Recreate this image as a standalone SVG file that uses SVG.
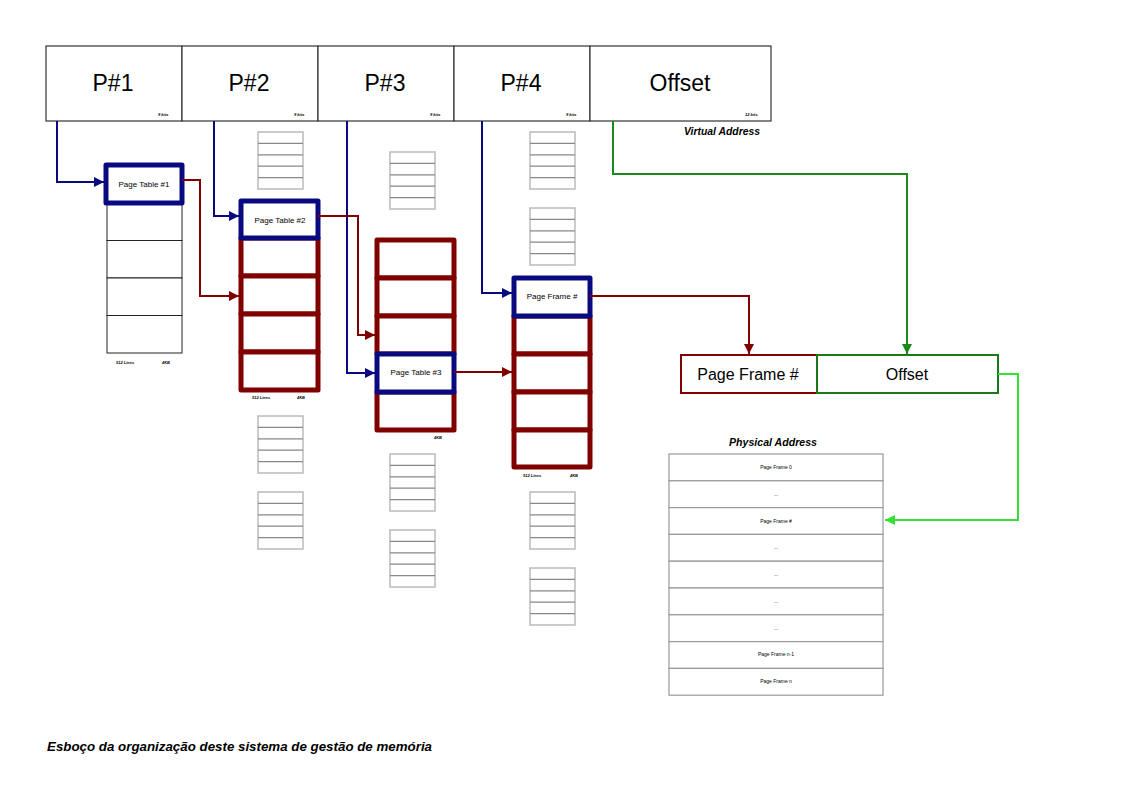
<svg xmlns="http://www.w3.org/2000/svg" xmlns:xlink="http://www.w3.org/1999/xlink" width="1123" height="794" viewBox="0 0 1123 794">
<style>
text{font-family:"Liberation Sans",Arial,sans-serif;fill:#000}
.big{font-size:23px;text-anchor:middle}
.tiny{font-size:4px;font-weight:bold;font-style:italic}
.cap{font-size:10px;font-weight:bold;font-style:italic}
.foot{font-size:13px;font-weight:bold;font-style:italic}
.lbl{font-size:8px;text-anchor:middle}
.pm{font-size:5px;text-anchor:middle}
.mid{font-size:16px;text-anchor:middle}
.cell{fill:#fff;stroke:#333;stroke-width:1.2}
.blue{fill:#fff;stroke:#0a0a80;stroke-width:5;stroke-linejoin:round}
.red{fill:#fff;stroke:#800000;stroke-width:5;stroke-linejoin:round}
.thin{fill:#fff;stroke:#222;stroke-width:1}
.pmr{fill:#fff;stroke:#999;stroke-width:1.2}
.cb{fill:none;stroke:#0a0a80;stroke-width:2}
.cr{fill:none;stroke:#800000;stroke-width:2}
.cg{fill:none;stroke:#1a8a1a;stroke-width:2}
.clg{fill:none;stroke:#33e033;stroke-width:2}
</style>
<defs>
<marker id="ab" viewBox="0 0 10 10" refX="10" refY="5" markerWidth="5" markerHeight="5" orient="auto"><path d="M0,0L10,5L0,10z" fill="#0a0a80"/></marker>
<marker id="ar" viewBox="0 0 10 10" refX="10" refY="5" markerWidth="5" markerHeight="5" orient="auto"><path d="M0,0L10,5L0,10z" fill="#800000"/></marker>
<marker id="ag" viewBox="0 0 10 10" refX="10" refY="5" markerWidth="5" markerHeight="5" orient="auto"><path d="M0,0L10,5L0,10z" fill="#1a8a1a"/></marker>
<marker id="alg" viewBox="0 0 10 10" refX="10" refY="5" markerWidth="5" markerHeight="5" orient="auto"><path d="M0,0L10,5L0,10z" fill="#33e033"/></marker>
<g id="st">
<rect x="0" y="0" width="45" height="57" fill="#fff" stroke="#bbb" stroke-width="1.5"/>
<path d="M0,11.4H45M0,22.8H45M0,34.2H45M0,45.6H45" stroke="#888" stroke-width="1.2"/>
</g>
</defs>
<rect width="1123" height="794" fill="#fff"/>

<g id="virtual-address">
<rect x="46" y="46" width="136" height="75" class="cell"/>
<rect x="182" y="46" width="136" height="75" class="cell"/>
<rect x="318" y="46" width="136" height="75" class="cell"/>
<rect x="454" y="46" width="136" height="75" class="cell"/>
<rect x="590" y="46" width="181" height="75" class="cell"/>
<text x="113" y="91" class="big">P#1</text>
<text x="249" y="91" class="big">P#2</text>
<text x="385" y="91" class="big">P#3</text>
<text x="521" y="91" class="big">P#4</text>
<text x="680" y="91" class="big">Offset</text>
<text x="158" y="116" class="tiny">9 bits</text>
<text x="294" y="116" class="tiny">9 bits</text>
<text x="430" y="116" class="tiny">9 bits</text>
<text x="566" y="116" class="tiny">9 bits</text>
<text x="745" y="116" class="tiny">12 bits</text>
<text x="684" y="135" class="cap" textLength="76" lengthAdjust="spacingAndGlyphs">Virtual Address</text>
</g>

<g id="page-table-1">
<rect x="107" y="203" width="75" height="37.5" class="thin"/>
<rect x="107" y="240.5" width="75" height="37.5" class="thin"/>
<rect x="107" y="278" width="75" height="37.5" class="thin"/>
<rect x="107" y="315.5" width="75" height="37.5" class="thin"/>
<rect x="106" y="165" width="76" height="38" class="blue"/>
<text x="144" y="187" class="lbl">Page Table #1</text>
<text x="116" y="364" class="tiny">512 Lines</text>
<text x="162" y="364" class="tiny">4KB</text>
</g>

<g id="page-table-2">
<rect x="241" y="238" width="77" height="38" class="red"/>
<rect x="241" y="276" width="77" height="38" class="red"/>
<rect x="241" y="314" width="77" height="38" class="red"/>
<rect x="241" y="352" width="77" height="38" class="red"/>
<rect x="241" y="201" width="77" height="37" class="blue"/>
<text x="280" y="223" class="lbl">Page Table #2</text>
<text x="252" y="399" class="tiny">512 Lines</text>
<text x="297" y="399" class="tiny">4KB</text>
</g>

<g id="page-table-3">
<rect x="377" y="240" width="77" height="38" class="red"/>
<rect x="377" y="278" width="77" height="38" class="red"/>
<rect x="377" y="316" width="77" height="38" class="red"/>
<rect x="377" y="392" width="77" height="38" class="red"/>
<rect x="377" y="354" width="77" height="38" class="blue"/>
<text x="416" y="375" class="lbl">Page Table #3</text>
<text x="434" y="439" class="tiny">4KB</text>
</g>

<g id="page-frame-table">
<rect x="514" y="316" width="76" height="38" class="red"/>
<rect x="514" y="354" width="76" height="38" class="red"/>
<rect x="514" y="392" width="76" height="38" class="red"/>
<rect x="514" y="430" width="76" height="37" class="red"/>
<rect x="514" y="278" width="76" height="38" class="blue"/>
<text x="552" y="299" class="lbl">Page Frame #</text>
<text x="523" y="477" class="tiny">512 Lines</text>
<text x="570" y="477" class="tiny">4KB</text>
</g>

<g id="other-tables">
<use xlink:href="#st" x="258" y="132"/>
<use xlink:href="#st" x="258" y="416"/>
<use xlink:href="#st" x="258" y="492"/>
<use xlink:href="#st" x="390" y="152"/>
<use xlink:href="#st" x="390" y="454"/>
<use xlink:href="#st" x="390" y="530"/>
<use xlink:href="#st" x="530" y="132"/>
<use xlink:href="#st" x="530" y="208"/>
<use xlink:href="#st" x="530" y="492"/>
<use xlink:href="#st" x="530" y="568"/>
</g>

<g id="physical-address-register">
<rect x="681" y="355" width="136" height="38" fill="#fff" stroke="#800000" stroke-width="2"/>
<rect x="817" y="355" width="181" height="38" fill="#fff" stroke="#1a7a1a" stroke-width="2"/>
<text x="748" y="380" class="mid">Page Frame #</text>
<text x="907" y="380" class="mid">Offset</text>
</g>

<g id="physical-memory">
<text x="729" y="446" class="cap" textLength="88" lengthAdjust="spacingAndGlyphs">Physical Address</text>
<rect x="669" y="454" width="214" height="26.8" class="pmr"/>
<rect x="669" y="480.8" width="214" height="26.8" class="pmr"/>
<rect x="669" y="507.6" width="214" height="26.8" class="pmr"/>
<rect x="669" y="534.4" width="214" height="26.8" class="pmr"/>
<rect x="669" y="561.2" width="214" height="26.8" class="pmr"/>
<rect x="669" y="588" width="214" height="26.8" class="pmr"/>
<rect x="669" y="614.8" width="214" height="26.8" class="pmr"/>
<rect x="669" y="641.6" width="214" height="26.8" class="pmr"/>
<rect x="669" y="668.4" width="214" height="26.8" class="pmr"/>
<text x="776" y="469" class="pm">Page Frame 0</text>
<text x="776" y="496" class="pm">...</text>
<text x="776" y="523" class="pm">Page Frame  #</text>
<text x="776" y="549" class="pm">...</text>
<text x="776" y="576" class="pm">...</text>
<text x="776" y="603" class="pm">...</text>
<text x="776" y="630" class="pm">...</text>
<text x="776" y="656" class="pm">Page Frame n-1</text>
<text x="776" y="683" class="pm">Page Frame n</text>
</g>

<g id="connectors">
<path d="M57,121V182H104" class="cb" marker-end="url(#ab)"/>
<path d="M214,121V216H239" class="cb" marker-end="url(#ab)"/>
<path d="M347,121V373H375" class="cb" marker-end="url(#ab)"/>
<path d="M482,121V293H512" class="cb" marker-end="url(#ab)"/>
<path d="M182,180H200V296H239" class="cr" marker-end="url(#ar)"/>
<path d="M318,216H358V335H375" class="cr" marker-end="url(#ar)"/>
<path d="M454,372H512" class="cr" marker-end="url(#ar)"/>
<path d="M590,296H749V354" class="cr" marker-end="url(#ar)"/>
<path d="M613,121V174H907V354" class="cg" marker-end="url(#ag)"/>
<path d="M998,374H1018V520H885" class="clg" marker-end="url(#alg)"/>
</g>

<text x="47" y="751" class="foot" textLength="385" lengthAdjust="spacingAndGlyphs">Esboço da organização deste sistema de gestão de memória</text>
</svg>
